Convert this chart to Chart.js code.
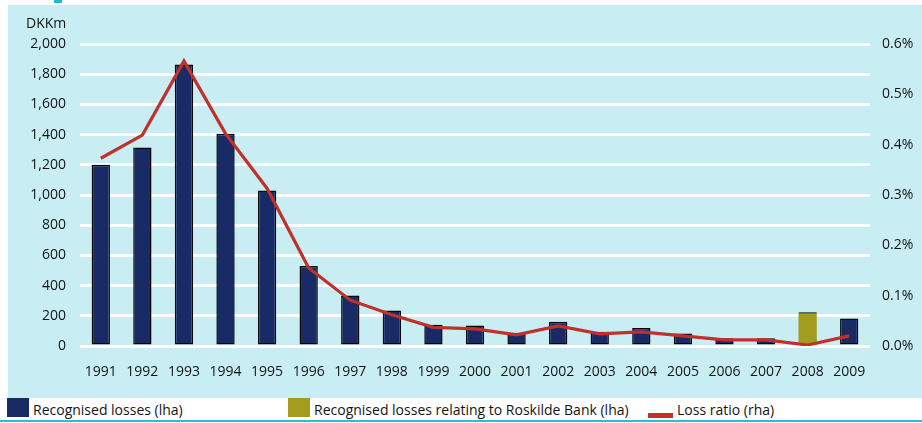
<!DOCTYPE html>
<html>
<head>
<meta charset="utf-8">
<script src="https://cdn.jsdelivr.net/npm/chart.js@4"></script>
<style>
  html, body { margin: 0; padding: 0; background: #ffffff; }
  #wrap { position: relative; width: 922px; height: 423px; overflow: hidden; font-family: "Open Sans", sans-serif; color: #141414; }
  #chart { position: absolute; left: 0; top: 0; }
  .unit { position: absolute; left: 26px; top: 13px; font-size: 14px; }
  .legend { position: absolute; top: 398px; left: 0; width: 922px; height: 22px; font-size: 14px; }
  .item { position: absolute; top: 0; height: 22px; line-height: 24px; white-space: nowrap; }
  .sw { position: absolute; }
  .rule { position: absolute; left: 0; top: 420px; width: 922px; height: 2px; background: #25c2d3; }
</style>
</head>
<body>
<div id="wrap">
  <canvas id="chart" width="922" height="398"></canvas>
  <div class="unit">DKKm</div>
  <div class="legend" id="legend"></div>
  <div class="rule"></div>
</div>
<script>
// Years on the category axis
const years = ['1991','1992','1993','1994','1995','1996','1997','1998','1999','2000',
               '2001','2002','2003','2004','2005','2006','2007','2008','2009'];

// Recognised losses, DKK millions (left axis)
const recognisedLosses = [1200, 1315, 1865, 1405, 1030, 530, 335, 235, 140, 135,
                          88, 160, 95, 120, 82, 52, 52, 10, 182];

// Losses relating to Roskilde Bank, DKK millions (left axis)
const roskildeLosses = [0, 0, 0, 0, 0, 0, 0, 0, 0, 0,
                        0, 0, 0, 0, 0, 0, 0, 213, 0];

// Loss ratio, per cent (right axis)
const lossRatio = [0.373, 0.419, 0.566, 0.422, 0.313, 0.155, 0.091, 0.062, 0.037, 0.034,
                   0.022, 0.040, 0.024, 0.028, 0.020, 0.012, 0.012, 0.002, 0.020];

// Axis tick values
const leftTicks = [0, 200, 400, 600, 800, 1000, 1200, 1400, 1600, 1800, 2000];
const rightTicks = [0, 0.1, 0.2, 0.3, 0.4, 0.5, 0.6];

const seriesNames = ['Recognised losses (lha)', 'Recognised losses relating to Roskilde Bank (lha)', 'Loss ratio (rha)'];

const NAVY = '#182b67';
const OLIVE = '#a39c1e';
const RED = '#c2302c';
const PANEL = '#c8eef3';

Chart.defaults.font.family = '"Open Sans", sans-serif';
Chart.defaults.font.size = 14;
Chart.defaults.color = '#141414';

// Light panel behind the plot, plus the small accent at the top
const panelPlugin = {
  id: 'panel',
  beforeDraw(chart) {
    const ctx = chart.ctx;
    ctx.save();
    ctx.fillStyle = PANEL;
    ctx.fillRect(8, 5, chart.width - 8, chart.height - 5);
    ctx.fillStyle = '#1cb9d0';
    ctx.fillRect(54, 0, 8, 3);
    ctx.restore();
  }
};

new Chart(document.getElementById('chart'), {
  type: 'bar',
  data: {
    labels: years,
    datasets: [
      {
        type: 'line',
        label: seriesNames[2],
        data: lossRatio,
        yAxisID: 'y2',
        borderColor: RED,
        backgroundColor: RED,
        borderWidth: 3.2,
        pointRadius: 0,
        tension: 0,
        order: 0
      },
      {
        label: seriesNames[0],
        data: recognisedLosses,
        yAxisID: 'y',
        backgroundColor: NAVY,
        borderColor: '#050505',
        borderWidth: 1.5,
        borderSkipped: false,
        barPercentage: 0.44,
        categoryPercentage: 1,
        stack: 'losses',
        order: 2
      },
      {
        label: seriesNames[1],
        data: roskildeLosses,
        yAxisID: 'y',
        backgroundColor: OLIVE,
        borderWidth: 0,
        barPercentage: 0.44,
        categoryPercentage: 1,
        stack: 'losses',
        order: 1
      }
    ]
  },
  options: {
    responsive: false,
    animation: false,
    devicePixelRatio: 1,
    layout: { padding: { top: 44, left: 0, right: 0, bottom: 0 } },
    plugins: { legend: { display: false }, tooltip: { enabled: false } },
    scales: {
      x: {
        stacked: true,
        grid: { display: false, drawTicks: false },
        border: { display: false },
        ticks: { padding: 18, maxRotation: 0, autoSkip: false },
        afterFit(scale) { scale.height = 52; }
      },
      y: {
        position: 'left',
        stacked: true,
        min: 0,
        max: 2000,
        afterBuildTicks(scale) { scale.ticks = leftTicks.map(v => ({ value: v })); },
        ticks: {
          padding: 14,
          callback: v => v.toLocaleString('en-US')
        },
        grid: { color: '#ffffff', lineWidth: 3, drawTicks: false },
        border: { display: false },
        afterFit(scale) { scale.width = 80; }
      },
      y2: {
        position: 'right',
        min: 0,
        max: 0.6,
        afterBuildTicks(scale) { scale.ticks = rightTicks.map(v => ({ value: v })); },
        ticks: {
          padding: 12,
          callback: v => v.toFixed(1) + '%'
        },
        grid: { display: false, drawTicks: false },
        border: { display: false },
        afterFit(scale) { scale.width = 52; }
      }
    }
  },
  plugins: [panelPlugin]
});

// Legend row under the chart
const legend = document.getElementById('legend');
const legendItems = [
  { name: seriesNames[0], color: NAVY, x: 7, sw: { w: 22, h: 19, top: 0 }, textX: 33 },
  { name: seriesNames[1], color: OLIVE, x: 288, sw: { w: 22, h: 19, top: 0 }, textX: 314 },
  { name: seriesNames[2], color: RED, x: 648, sw: { w: 25, h: 5, top: 15 }, textX: 677 }
];
legendItems.forEach(it => {
  const s = document.createElement('div');
  s.className = 'sw';
  s.style.left = it.x + 'px';
  s.style.top = it.sw.top + 'px';
  s.style.width = it.sw.w + 'px';
  s.style.height = it.sw.h + 'px';
  s.style.background = it.color;
  legend.appendChild(s);
  const t = document.createElement('div');
  t.className = 'item';
  t.style.left = it.textX + 'px';
  t.textContent = it.name;
  legend.appendChild(t);
});
</script>
</body>
</html>
